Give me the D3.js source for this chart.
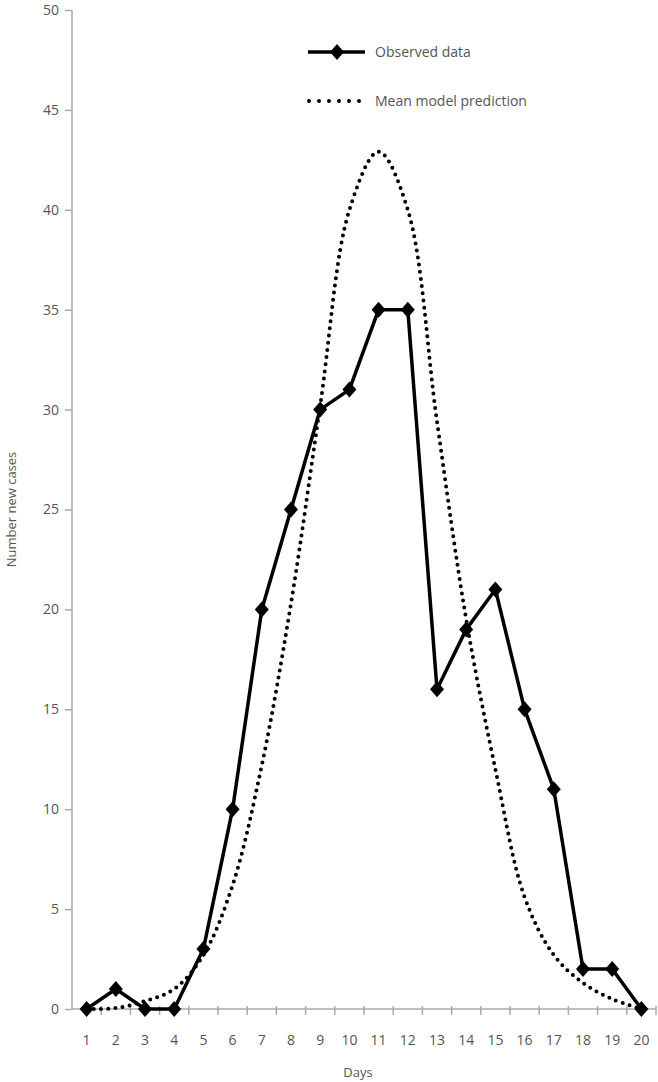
<!DOCTYPE html>
<html>
<head>
<meta charset="utf-8">
<script src="https://cdn.jsdelivr.net/npm/d3@7"></script>
<style>
  body { margin: 0; background: #fff; }
  text { font-family: "Open Sans", sans-serif; fill: #555; }
</style>
</head>
<body>
<div id="chart"></div>
<script>
var days = d3.range(1, 21);
var observed = [0, 1, 0, 0, 3, 10, 20, 25, 30, 31, 35, 35, 16, 19, 21, 15, 11, 2, 2, 0];
var predicted = [0, 0.05, 0.4, 1, 2.7, 6.2, 12.2, 20.3, 30.2, 40, 42.9, 40, 29.4, 19.5, 12, 5.6, 2.7, 1.3, 0.5, 0];
var yTicks = [0, 5, 10, 15, 20, 25, 30, 35, 40, 45, 50];

var W = 658, H = 1082;
var margin = {top: 10, right: 2, bottom: 73, left: 72};
var width = W - margin.left - margin.right,
    height = H - margin.top - margin.bottom;

var svg = d3.select("#chart").append("svg")
    .attr("width", W)
    .attr("height", H)
  .append("g")
    .attr("transform", "translate(" + margin.left + "," + margin.top + ")");

var x = d3.scaleBand().domain(days).range([0, width]);
var y = d3.scaleLinear().domain([0, 50]).range([height, 0]);
var cx = function(d, i) { return x(days[i]) + x.bandwidth() / 2; };

// y axis
var yAxis = svg.append("g").call(d3.axisLeft(y).tickValues(yTicks).tickSize(7).tickPadding(6));
yAxis.selectAll("line, path").attr("stroke", "#aaa").attr("stroke-width", 1.5);
yAxis.select(".domain").attr("d", "M0," + height + "V0");
yAxis.selectAll("text").style("font-size", "14px").style("font-family", "Open Sans").attr("fill", "#555");

// x axis line and ticks at band boundaries
var xAxis = svg.append("g").attr("transform", "translate(0," + height + ")");
xAxis.append("line").attr("x1", 0).attr("x2", width).attr("stroke", "#aaa").attr("stroke-width", 1.5);
xAxis.selectAll(".tk").data(days).enter().append("line")
    .attr("x1", function(d) { return x(d) + x.bandwidth(); })
    .attr("x2", function(d) { return x(d) + x.bandwidth(); })
    .attr("y1", -3).attr("y2", 6)
    .attr("stroke", "#aaa").attr("stroke-width", 1.5);
xAxis.selectAll(".lbl").data(days).enter().append("text")
    .attr("x", function(d) { return x(d) + x.bandwidth() / 2; })
    .attr("y", 36)
    .attr("text-anchor", "middle")
    .style("font-size", "14px")
    .text(function(d) { return d; });

svg.append("text")
    .attr("x", width / 2 - 6)
    .attr("y", height + 68)
    .attr("text-anchor", "middle")
    .style("font-size", "13px")
    .text("Days");

svg.append("text")
    .attr("transform", "translate(-56," + (height / 2) + ") rotate(-90)")
    .attr("text-anchor", "middle")
    .style("font-size", "13px")
    .text("Number new cases");

// model prediction (dotted, smoothed)
var smooth = d3.line().x(cx).y(function(d) { return y(d); }).curve(d3.curveCatmullRom.alpha(0.5));
svg.append("path")
    .datum(predicted)
    .attr("d", smooth)
    .attr("fill", "none")
    .attr("stroke", "#000")
    .attr("stroke-width", 4)
    .attr("stroke-linecap", "round")
    .attr("stroke-dasharray", "0 7.2");

// observed data
var line = d3.line().x(cx).y(function(d) { return y(d); });
svg.append("path")
    .datum(observed)
    .attr("d", line)
    .attr("fill", "none")
    .attr("stroke", "#000")
    .attr("stroke-width", 3.5)
    .attr("stroke-linejoin", "round");

var diamond = "M0,-8L7,0L0,8L-7,0Z";
svg.selectAll(".mk").data(observed).enter().append("path")
    .attr("d", diamond)
    .attr("transform", function(d, i) { return "translate(" + cx(d, i) + "," + y(d) + ")"; })
    .attr("fill", "#000");

// legend
var lg = svg.append("g").attr("transform", "translate(236,42)");
lg.append("line").attr("x1", 0).attr("x2", 57).attr("y1", 0).attr("y2", 0)
    .attr("stroke", "#000").attr("stroke-width", 3.5);
lg.append("path").attr("d", diamond).attr("transform", "translate(29,0)").attr("fill", "#000");
lg.append("text").attr("x", 67).attr("y", 5).style("font-size", "14px").text("Observed data");
lg.append("line").attr("x1", 1).attr("x2", 52).attr("y1", 49).attr("y2", 49)
    .attr("stroke", "#000").attr("stroke-width", 4)
    .attr("stroke-linecap", "round").attr("stroke-dasharray", "0 10");
lg.append("text").attr("x", 67).attr("y", 54).style("font-size", "14px").text("Mean model prediction");
</script>
</body>
</html>
